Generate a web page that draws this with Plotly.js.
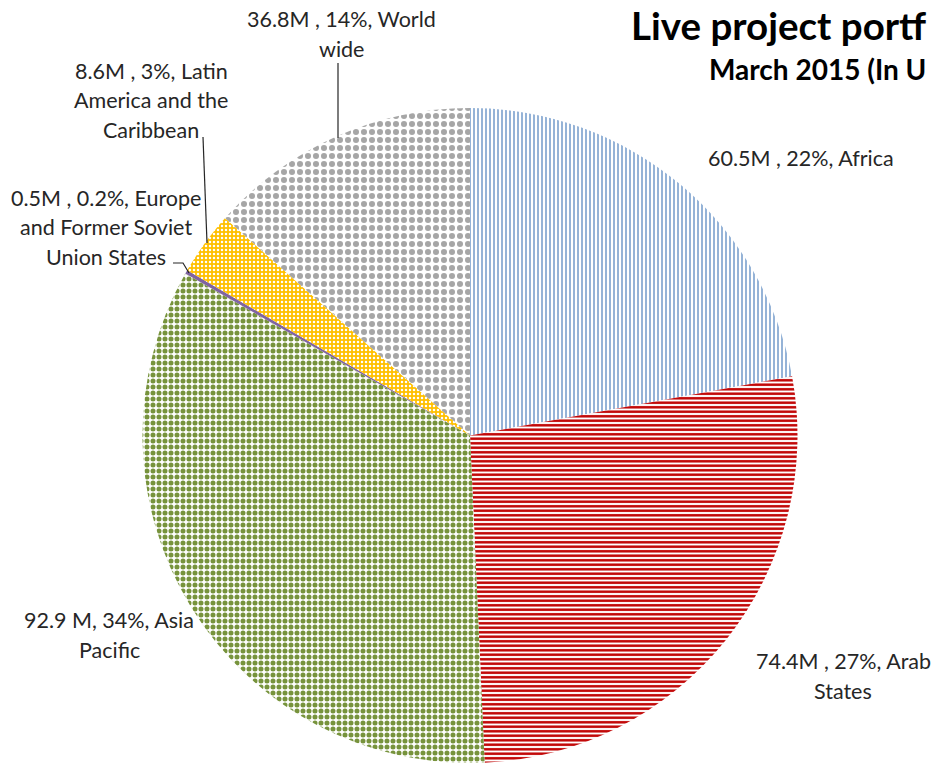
<!DOCTYPE html>
<html>
<head>
<meta charset="utf-8">
<script src="https://cdn.plot.ly/plotly-3.0.1.min.js"></script>
<style>html,body{margin:0;padding:0;background:#fff;overflow:hidden}#chart{width:936px;height:763px}</style>
</head>
<body>
<div id="chart"></div>
<script>
// ---- data ----
const regions = ["Africa", "Arab States", "Asia Pacific", "Europe and Former Soviet Union States", "Latin America and the Caribbean", "World wide"];
const valuesM = [60.5, 74.4, 92.9, 0.5, 8.6, 36.8];
const shareLabels = ["22%", "27%", "34%", "0.2%", "3%", "14%"];
const labelLines = [
  ["60.5M , 22%, Africa"],
  ["74.4M , 27%, Arab", "States"],
  ["92.9 M, 34%, Asia", "Pacific"],
  ["0.5M , 0.2%, Europe", "and Former Soviet", "Union States"],
  ["8.6M , 3%, Latin", "America and the", "Caribbean"],
  ["36.8M , 14%, World", "wide"]
];
// title as visible in the (cropped) reference
const titleLines = ["Live project portf", "March 2015 (In U"];

// ---- styling ----
const W = 936, H = 763;
const colors = ["#95B3D7", "#C00000", "#77933C", "#8064A2", "#FFC000", "#A6A6A6"];
const pat = {
  shape:    ["|", "-", ".", "", ".", "."],
  fgcolor:  ["#95B3D7", "#C00000", "#77933C", "#8064A2", "#FFFFFF", "#A6A6A6"],
  bgcolor:  ["#FFFFFF", "#FFFFFF", "#FFFFFF", "#8064A2", "#FFC000", "#FFFFFF"],
  size:     [4, 4.5, 6, 4, 4, 8],
  solidity: [0.5, 0.55, 0.55, 0.5, 0.3, 0.45],
  fillmode: "replace"
};
const px = x => x / W;
const py = y => 1 - y / H;

// label block centres (pixels)
const labelPos = [[801, 158], [843, 676], [109, 635], [106, 227], [151, 100], [341, 34]];
const lineGap = 29.5;
const textColor = "#262626";
const annotations = [];
labelLines.forEach((lines, i) => {
  const n = lines.length;
  lines.forEach((t, k) => {
    const yc = labelPos[i][1] + (k - (n - 1) / 2) * lineGap;
    annotations.push({
      xref: "paper", yref: "paper", x: px(labelPos[i][0]), y: py(yc),
      xanchor: "center", yanchor: "middle", showarrow: false, text: t,
      font: {family: "Lato, 'Open Sans', sans-serif", size: 21.5, color: textColor}
    });
  });
});
annotations.push({xref: "paper", yref: "paper", x: px(629), y: py(25), xanchor: "left", yanchor: "middle",
  showarrow: false, text: "<b>" + titleLines[0] + "</b>", font: {family: "Lato, sans-serif", size: 38.5, color: "#000"}});
annotations.push({xref: "paper", yref: "paper", x: px(707), y: py(69), xanchor: "left", yanchor: "middle",
  showarrow: false, text: "<b>" + titleLines[1] + "</b>", font: {family: "Lato, sans-serif", size: 28, color: "#000"}});

const leaders = [
  [[338, 63], [338, 138]],
  [[203, 137], [207, 243]],
  [[173, 263], [183, 263], [189, 273]]
];
const shapes = leaders.map(pts => ({
  type: "path", xref: "paper", yref: "paper",
  path: "M" + pts.map(p => px(p[0]) + "," + py(p[1])).join(" L"),
  line: {color: "#262626", width: 1.2}
}));

const trace = {
  type: "pie",
  labels: regions,
  values: valuesM,
  sort: false,
  direction: "clockwise",
  rotation: 0,
  textinfo: "none",
  hoverinfo: "label+value+percent",
  marker: {colors: colors, pattern: pat, line: {width: 0, color: "#ffffff"}},
  domain: {x: [px(142), px(798)], y: [0, py(108)]},
  showlegend: false
};

const layout = {
  width: W, height: H,
  margin: {l: 0, r: 0, t: 0, b: 0},
  paper_bgcolor: "#ffffff",
  showlegend: false,
  annotations: annotations,
  shapes: shapes
};
Plotly.newPlot("chart", [trace], layout, {displayModeBar: false, staticPlot: true});
</script>
</body>
</html>
